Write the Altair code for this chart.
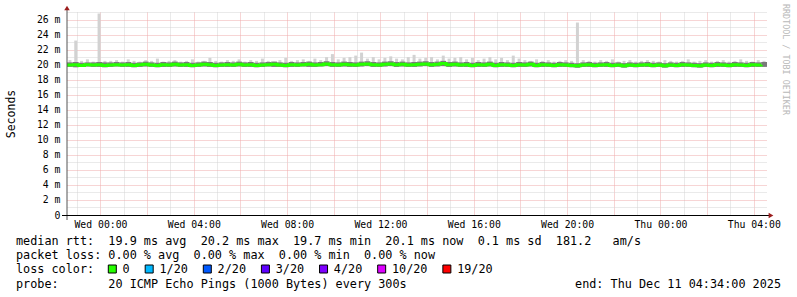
import altair as alt
import pandas as pd

# ---- data (15-minute slots, Tue Dec 9 22:34 UTC -> Thu Dec 11 04:34 UTC) ----
start_time = "2025-12-09 22:34:00"
end_time = "2025-12-11 04:34:00"
slot = "15min"

median_ms = [
    19.95, 20.0, 19.9, 20.0, 19.95, 20.0, 19.9, 19.95, 20.0, 19.95,
    20.0, 19.9, 20.0, 20.05, 19.95, 19.9, 20.0, 19.95, 20.05, 19.95,
    20.0, 19.9, 19.95, 20.05, 20.0, 19.9, 19.95, 20.0, 19.95, 20.05,
    19.95, 20.0, 19.9, 19.95, 20.0, 20.05, 19.95, 19.9, 20.0, 19.95,
    20.0, 20.05, 19.95, 20.0, 20.1, 20.0, 19.95, 20.05, 20.0, 19.95,
    20.05, 20.1, 20.0, 19.95, 20.05, 20.1, 20.0, 20.05, 19.95, 20.0,
    20.05, 20.1, 20.0, 20.05, 20.15, 20.0, 20.05, 19.95, 20.0, 19.9,
    20.0, 19.95, 20.05, 19.9, 20.0, 19.95, 19.9, 20.0, 19.95, 20.05,
    19.9, 20.0, 19.95, 19.9, 20.0, 19.95, 19.9, 19.85, 19.95, 20.0,
    19.9, 19.95, 20.0, 19.9, 19.95, 19.85, 19.95, 19.9, 19.95, 20.0,
    19.9, 19.95, 19.85, 19.95, 19.9, 20.0, 19.95, 19.9, 19.85, 19.95,
    19.9, 20.0, 19.95, 19.9, 20.0, 19.95, 19.9, 20.0, 19.95, 20.0,
]
smoke_low_ms = [
    19.7, 19.65, 19.7, 19.75, 19.7, 19.7, 19.65, 19.7, 19.75, 19.7,
    19.7, 19.65, 19.7, 19.75, 19.7, 19.65, 19.7, 19.7, 19.75, 19.7,
    19.7, 19.65, 19.7, 19.75, 19.7, 19.65, 19.7, 19.7, 19.7, 19.75,
    19.7, 19.7, 19.65, 19.7, 19.75, 19.7, 19.7, 19.65, 19.7, 19.7,
    19.75, 19.7, 19.7, 19.75, 19.8, 19.7, 19.7, 19.75, 19.7, 19.7,
    19.75, 19.8, 19.7, 19.7, 19.75, 19.8, 19.7, 19.75, 19.7, 19.7,
    19.75, 19.8, 19.7, 19.75, 19.8, 19.7, 19.75, 19.7, 19.7, 19.65,
    19.7, 19.7, 19.75, 19.65, 19.7, 19.7, 19.65, 19.7, 19.7, 19.75,
    19.65, 19.7, 19.7, 19.65, 19.7, 19.7, 19.65, 19.6, 19.7, 19.7,
    19.65, 19.7, 19.7, 19.65, 19.7, 19.6, 19.7, 19.65, 19.7, 19.7,
    19.65, 19.7, 19.6, 19.7, 19.65, 19.7, 19.7, 19.65, 19.6, 19.7,
    19.65, 19.7, 19.7, 19.65, 19.7, 19.7, 19.65, 19.7, 19.7, 19.7,
]
smoke_high_ms = [
    20.3, 20.35, 20.25, 20.3, 20.3, 20.35, 20.3, 20.3, 20.35, 20.3,
    20.35, 20.25, 20.3, 20.4, 20.3, 20.25, 20.35, 20.3, 20.4, 20.3,
    20.35, 20.25, 20.3, 20.4, 20.35, 20.25, 20.3, 20.35, 20.3, 20.4,
    20.3, 20.35, 20.25, 20.3, 20.35, 20.4, 20.3, 20.25, 20.35, 20.3,
    20.35, 20.4, 20.3, 20.35, 20.45, 20.35, 20.3, 20.4, 20.35, 20.3,
    20.4, 20.45, 20.35, 20.3, 20.4, 20.45, 20.35, 20.4, 20.3, 20.35,
    20.4, 20.45, 20.35, 20.4, 20.5, 20.35, 20.4, 20.3, 20.35, 20.25,
    20.35, 20.3, 20.4, 20.25, 20.35, 20.3, 20.25, 20.35, 20.3, 20.4,
    20.25, 20.35, 20.3, 20.25, 20.35, 20.3, 20.25, 20.2, 20.3, 20.35,
    20.25, 20.3, 20.35, 20.25, 20.3, 20.2, 20.3, 20.25, 20.3, 20.35,
    20.25, 20.3, 20.2, 20.3, 20.25, 20.35, 20.3, 20.25, 20.2, 20.3,
    20.25, 20.35, 20.3, 20.25, 20.35, 20.3, 20.25, 20.35, 20.3, 20.35,
]
max_ms = [
    20.6, 23.2, 20.5, 20.7, 20.4, 26.8, 20.5, 20.5, 20.6, 20.4,
    20.7, 20.5, 20.4, 20.6, 20.5, 20.8, 20.4, 20.5, 20.6, 20.4,
    20.5, 20.7, 20.4, 20.5, 20.9, 20.5, 20.4, 20.6, 20.5, 20.7,
    20.4, 20.6, 20.5, 20.8, 20.5, 20.4, 20.6, 20.9, 20.5, 20.6,
    20.7, 20.5, 20.8, 20.6, 21.0, 21.4, 20.7, 20.9, 21.0, 21.2,
    21.6, 20.8, 21.0, 20.7, 20.9, 21.1, 20.8, 20.7, 21.0, 21.3,
    20.8, 20.9, 21.0, 20.7, 21.2, 20.8, 20.9, 21.0, 20.7, 20.9,
    20.6, 20.8, 21.0, 20.7, 20.9, 20.6, 21.2, 20.8, 20.6, 20.5,
    20.7, 20.5, 20.6, 20.4, 20.5, 20.6, 20.5, 25.6, 20.6, 20.5,
    20.4, 20.6, 20.5, 20.7, 20.4, 20.5, 20.6, 20.4, 20.5, 20.6,
    20.5, 20.4, 20.6, 20.5, 20.4, 20.5, 20.7, 20.4, 20.5, 20.6,
    20.4, 20.5, 20.6, 20.4, 20.5, 20.7, 20.5, 20.4, 20.6, 20.5,
]
loss_per_slot = "0"

loss_labels = ["0", "1/20", "2/20", "3/20", "4/20", "10/20", "19/20"]
loss_colors = ["#26ff00", "#00b8ff", "#0059ff", "#5e00ff", "#7e00ff", "#dd00ff", "#ff0000"]

y_title = "Seconds"
stat_line_1 = "median rtt:  19.9 ms avg  20.2 ms max  19.7 ms min  20.1 ms now  0.1 ms sd  181.2   am/s"
stat_line_2 = "packet loss: 0.00 % avg  0.00 % max  0.00 % min  0.00 % now"
legend_caption = "loss color:"
probe_line = "probe:       20 ICMP Echo Pings (1000 Bytes) every 300s"
end_line = "end: Thu Dec 11 04:34:00 2025"
watermark = "RRDTOOL / TOBI OETIKER"

# ---- layout constants (pixels, relative to plot origin) ----
MONO = "DejaVu Sans Mono"
FONT_SIZE = 11.8
CHAR_W = 7.08
TEXT_X = -51
LEGEND_X0 = 41.3      # left edge of the first legend square
LEGEND_Y = 257
SQUARE = 8
LABEL_GAP = 14.3      # square left -> label start
ENTRY_GAP = 15.5      # label end -> next square


def to_ms(ts):
    return int(pd.Timestamp(ts).value // 10**6)


# ---- tables ----
times = pd.date_range(start_time, periods=len(median_ms), freq=slot)
step = pd.Timedelta(slot)
df = pd.DataFrame({
    "t": [to_ms(t) for t in times],
    "t2": [to_ms(t + step) for t in times],
    "tm": [to_ms(t + step / 2) for t in times],
    "med": median_ms,
    "lo": smoke_low_ms,
    "hi": smoke_high_ms,
    "mx": max_ms,
    "loss": loss_per_slot,
})

sq_left = []
pos = LEGEND_X0
for lab in loss_labels:
    sq_left.append(pos)
    pos += LABEL_GAP + len(lab) * CHAR_W + ENTRY_GAP
legend_df = pd.DataFrame({
    "loss_class": loss_labels,
    "sq_x": [p + SQUARE / 2 for p in sq_left],
    "lab_x": [p + LABEL_GAP for p in sq_left],
})
hour_ticks = [to_ms(h) for h in pd.date_range("2025-12-09 23:00:00", "2025-12-11 04:00:00", freq="1h")]

RED_GRID = "#eeaaaa"
GRAY_GRID = "#d4d4d4"

x_scale = alt.Scale(type="utc", domain=[to_ms(start_time), to_ms(end_time)])
x_axis = alt.Axis(
    title=None, domain=False, ticks=False, values=hour_ticks,
    labelExpr="utchours(datum.value) % 4 == 0 ? utcFormat(datum.value, '%a %H:%M') : ''",
    labelOverlap=False, labelFont=MONO, labelFontSize=9.8, labelColor="#000",
    labelPadding=9, labelBaseline="middle", labelFlush=False,
    gridDash=[1, 1], gridWidth=1,
    gridColor={"condition": {"test": "utchours(datum.value) % 2 == 0", "value": RED_GRID}, "value": GRAY_GRID},
)
y_scale = alt.Scale(domain=[0, 27], nice=False)
y_axis = alt.Axis(
    title=y_title, values=list(range(0, 28)), domain=False, ticks=False,
    labelExpr="datum.value % 2 == 0 ? (datum.value == 0 ? '0' : datum.value + ' m') : ''",
    labelOverlap=False, labelFont=MONO, labelFontSize=9.8, labelColor="#000",
    labelPadding=7, labelFlush=False,
    gridDash=[1, 1], gridWidth=1,
    gridColor={"condition": {"test": "datum.value % 2 == 0", "value": RED_GRID}, "value": GRAY_GRID},
    titleFont=MONO, titleFontSize=11.5, titleFontWeight="normal", titleColor="#000",
    titleAngle=270, titleX=-56, titleY=101.5, titleAlign="center", titleBaseline="middle",
)

X = alt.X("t:T", scale=x_scale, axis=x_axis)
Xm = alt.X("tm:T", scale=x_scale, axis=x_axis)
Y_lo = alt.Y("lo:Q", scale=y_scale, axis=y_axis)
Y_med = alt.Y("med:Q", scale=y_scale, axis=y_axis)
loss_scale = alt.Scale(domain=loss_labels, range=loss_colors)

base = alt.Chart(df)

light = base.mark_rule(color="#d2d2d2", strokeWidth=3).encode(x=Xm, y=Y_lo, y2="mx:Q")
dark = base.mark_rect(color="#7a7a7a").encode(x=X, x2="t2:T", y=Y_lo, y2="hi:Q")
median_line = base.mark_line(interpolate="step-after", strokeWidth=3).encode(
    x=X, y=Y_med,
    color=alt.Color("loss:N", scale=loss_scale, legend=None),
)

leg = alt.Chart(legend_df)
legend_squares = leg.mark_square(size=SQUARE * SQUARE, stroke="#000", strokeWidth=1, opacity=1).encode(
    x=alt.X("sq_x:Q", scale=None), y=alt.value(LEGEND_Y),
    fill=alt.Fill("loss_class:N", scale=loss_scale, legend=None),
)
legend_labels = leg.mark_text(font=MONO, fontSize=FONT_SIZE, align="left", baseline="middle", color="#000").encode(
    x=alt.X("lab_x:Q", scale=None), y=alt.value(LEGEND_Y), text="loss_class:N",
)

one = alt.Chart(pd.DataFrame({"k": [0]}))
y_axis_line = one.mark_rule(color="#555", strokeWidth=1).encode(
    x=alt.value(0), y=alt.value(-3), y2=alt.value(208))
x_axis_line = one.mark_rule(color="#000", strokeWidth=1).encode(
    x=alt.value(-5), x2=alt.value(702), y=alt.value(203.5))
y_arrow = one.mark_point(shape="triangle-up", filled=True, color="#9b1c1c", size=30, opacity=1).encode(
    x=alt.value(0), y=alt.value(-4))
x_arrow = one.mark_point(shape="triangle-right", filled=True, color="#9b1c1c", size=30, opacity=1).encode(
    x=alt.value(704), y=alt.value(203.5))


def text_line(s, x, y, align="left", color="#000", size=FONT_SIZE, angle=0):
    return alt.Chart(pd.DataFrame({"s": [s.replace(" ", "\u00a0")]})).mark_text(
        font=MONO, fontSize=size, align=align, baseline="middle", color=color, angle=angle
    ).encode(text="s:N", x=alt.value(x), y=alt.value(y))


texts = [
    text_line(stat_line_1, TEXT_X, 229),
    text_line(stat_line_2, TEXT_X, 243),
    text_line(legend_caption, TEXT_X, LEGEND_Y),
    text_line(probe_line, TEXT_X, 271.5),
    text_line(end_line, 714, 271.5, align="right"),
    text_line(watermark, 719, -8, color="#b8b8b8", size=8.4, angle=90),
]

chart = alt.layer(
    light, dark, median_line, y_axis_line, x_axis_line, y_arrow, x_arrow,
    legend_squares, legend_labels, *texts
).properties(
    width=700, height=203,
    padding={"left": 67, "top": 12, "right": 30, "bottom": 82},
    autosize=alt.AutoSizeParams(type="none"),
    background="white",
).configure_view(stroke=None)

chart.save("out.html", embed_options={"renderer": "svg", "actions": False})
